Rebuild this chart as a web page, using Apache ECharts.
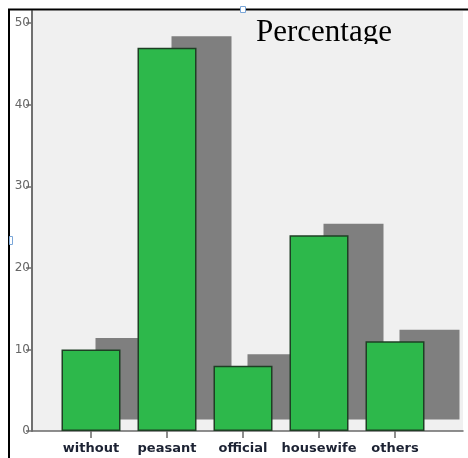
<!DOCTYPE html>
<html>
<head>
<meta charset="utf-8">
<script src="https://cdn.jsdelivr.net/npm/echarts@6/dist/echarts.min.js"></script>
<style>
html,body{margin:0;padding:0;background:#fff;}
#chart{width:468px;height:458px;}
</style>
</head>
<body>
<div id="chart"></div>
<script>
var categories = ['without', 'peasant', 'official', 'housewife', 'others'];
var percentages = [10, 47, 8, 24, 11];
var yTicks = [0, 10, 20, 30, 40, 50];
var titleText = 'Percentage';

var chart = echarts.init(document.getElementById('chart'), null, {renderer: 'canvas'});

var SHADOW_DX = 34, SHADOW_DY = -11.5, BAR_W = 59;

var option = {
  animation: false,
  backgroundColor: '#ffffff',
  grid: [
    {left: 32, top: 11, right: 5, bottom: 27, show: true, backgroundColor: '#f0f0f0', borderWidth: 0},
    {left: 53, top: 11, right: 35, bottom: 27}
  ],
  xAxis: [
    {gridIndex: 0, type: 'value', min: 0, max: 1,
     axisLine: {show: true, lineStyle: {color: '#6a6a6a', width: 1.5}},
     axisTick: {show: false}, axisLabel: {show: false}, splitLine: {show: false}},
    {gridIndex: 1, type: 'category', data: categories,
     axisLine: {show: false},
     axisTick: {show: true, alignWithLabel: true, interval: 0, length: 7, lineStyle: {color: '#6a6a6a', width: 1.5}},
     axisLabel: {show: true, interval: 0, margin: 11, fontFamily: 'DejaVu Sans', fontWeight: 'bold', fontSize: 13, color: '#1c2233'},
     splitLine: {show: false}}
  ],
  yAxis: [
    {gridIndex: 0, type: 'value', min: 0, max: 51.5,
     axisLine: {show: true, lineStyle: {color: '#707070', width: 2}},
     axisTick: {show: true, length: 6, customValues: yTicks, lineStyle: {color: '#707070', width: 1.5}},
     axisLabel: {show: true, margin: 2, customValues: yTicks, fontFamily: 'DejaVu Sans', fontSize: 12, color: '#666666'},
     splitLine: {show: false}},
    {gridIndex: 1, type: 'value', min: 0, max: 51.5, show: false, splitLine: {show: false}}
  ],
  series: [
    {
      type: 'custom',
      xAxisIndex: 1, yAxisIndex: 1,
      z: 1,
      data: percentages,
      renderItem: function (params, api) {
        var top = api.coord([api.value(0), api.value(1)]);
        var base = api.coord([api.value(0), 0]);
        return {
          type: 'rect',
          shape: {x: top[0] - BAR_W / 2 + SHADOW_DX, y: top[1] + SHADOW_DY, width: BAR_W + 1, height: base[1] - top[1]},
          style: {fill: '#7f7f7f'}
        };
      },
      encode: {x: 0, y: 1}
    },
    {
      type: 'bar',
      xAxisIndex: 1, yAxisIndex: 1,
      z: 3,
      barWidth: BAR_W,
      data: percentages,
      itemStyle: {color: '#2db84b', borderColor: '#1e3f24', borderWidth: 1.5}
    }
  ],
  graphic: [
    {type: 'line', shape: {x1: 8, y1: 9.5, x2: 468, y2: 9.5}, style: {stroke: '#000', lineWidth: 2}, z: 100},
    {type: 'line', shape: {x1: 9, y1: 9, x2: 9, y2: 458}, style: {stroke: '#000', lineWidth: 2}, z: 100},
    {type: 'text', left: 256, top: 17, z: 50,
     style: {text: titleText, font: '31px "Liberation Serif"', fill: '#000'}},
    {type: 'rect', shape: {x: 250, y: 44, width: 150, height: 8}, style: {fill: '#f0f0f0'}, z: 60},
    {type: 'rect', shape: {x: 240.5, y: 6.5, width: 5, height: 6}, style: {fill: '#fff', stroke: '#7aa6d8', lineWidth: 1}, z: 110},
    {type: 'rect', shape: {x: 9.5, y: 236.5, width: 3, height: 8}, style: {fill: '#fff', stroke: '#7aa6d8', lineWidth: 1}, z: 110}
  ]
};
chart.setOption(option);
</script>
</body>
</html>
